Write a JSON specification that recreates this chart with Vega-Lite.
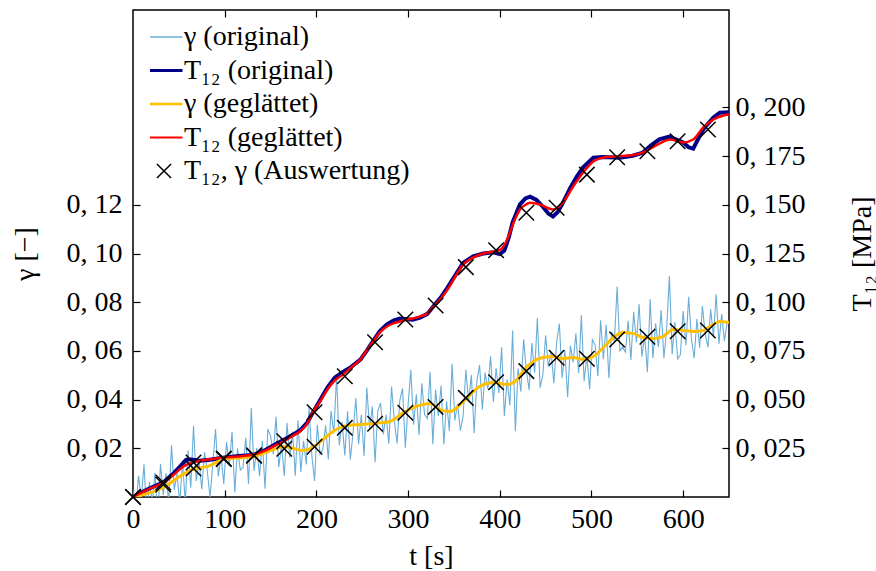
{
  "$schema": "https://vega.github.io/schema/vega-lite/v6.json",
  "width": 596,
  "height": 487,
  "autosize": {"type": "none"},
  "padding": {"left": 133, "top": 10, "right": 147, "bottom": 74},
  "config": {
    "font": "Liberation Serif",
    "view": {"stroke": "black", "strokeWidth": 1.5},
    "axis": {
      "labelFont": "Liberation Serif", "labelFontSize": 28, "labelColor": "black",
      "titleFont": "Liberation Serif", "titleFontSize": 28, "titleFontWeight": "normal", "titleColor": "black",
      "tickColor": "black", "tickSize": -7, "tickWidth": 1.2, "domain": false, "grid": false,
      "labelFlush": false, "labelOverlap": false
    },
    "legend": {"labelFont": "Liberation Serif", "labelFontSize": 28, "labelColor": "black", "labelLimit": 0}
  },
  "datasets": {
    "graw": [
      {"t":0,"g":0.003},{"t":3,"g":-0.0056},{"t":6,"g":0.0087},{"t":9,"g":-0.0009},{"t":12,"g":0.0134},{"t":15,"g":-0.0072},{"t":18,"g":0.0061},{"t":21,"g":-0.0025},{"t":24,"g":0.0098},{"t":27,"g":-0.0088},
      {"t":30,"g":0.0136},{"t":33,"g":0.0009},{"t":36,"g":0.0098},{"t":39,"g":-0.0025},{"t":42,"g":0.0212},{"t":45,"g":0.0029},{"t":48,"g":0.0096},{"t":51,"g":-0.0027},{"t":54,"g":0.0151},{"t":57,"g":-0.0023},
      {"t":60,"g":0.0192},{"t":63,"g":0.0038},{"t":66,"g":0.0293},{"t":69,"g":0.0066},{"t":72,"g":0.0149},{"t":75,"g":0.0032},{"t":78,"g":0.0184},{"t":81,"g":0.0107},{"t":84,"g":-0.0001},{"t":87,"g":0.0134},
      {"t":90,"g":0.0279},{"t":93,"g":0.0084},{"t":96,"g":0.017},{"t":99,"g":0.0054},{"t":102,"g":0.0226},{"t":105,"g":0.0127},{"t":108,"g":0.0268},{"t":111,"g":0.0019},{"t":114,"g":0.02},{"t":117,"g":0.0111},
      {"t":120,"g":0.0122},{"t":123,"g":0.0243},{"t":126,"g":0.0054},{"t":129,"g":0.0365},{"t":132,"g":0.0107},{"t":135,"g":0.0202},{"t":138,"g":0.0085},{"t":141,"g":0.023},{"t":144,"g":0.0034},{"t":147,"g":0.0278},
      {"t":150,"g":0.0252},{"t":153,"g":0.0176},{"t":156,"g":0.0329},{"t":159,"g":0.0122},{"t":162,"g":0.0215},{"t":165,"g":0.0086},{"t":168,"g":0.0304},{"t":171,"g":0.0161},{"t":174,"g":0.0269},{"t":177,"g":0.0087},
      {"t":180,"g":0.0315},{"t":183,"g":0.0103},{"t":186,"g":0.0231},{"t":189,"g":0.0134},{"t":192,"g":0.0368},{"t":195,"g":0.0172},{"t":198,"g":0.0066},{"t":201,"g":0.0297},{"t":204,"g":0.0176},{"t":207,"g":0.0195},
      {"t":210,"g":0.0294},{"t":213,"g":0.0154},{"t":216,"g":0.0353},{"t":219,"g":0.0261},{"t":222,"g":0.0497},{"t":225,"g":0.0213},{"t":228,"g":0.0309},{"t":231,"g":0.0171},{"t":234,"g":0.0352},{"t":237,"g":0.0154},
      {"t":240,"g":0.0265},{"t":243,"g":0.0406},{"t":246,"g":0.0217},{"t":249,"g":0.0338},{"t":252,"g":0.0169},{"t":255,"g":0.045},{"t":258,"g":0.0281},{"t":261,"g":0.0372},{"t":264,"g":0.0143},{"t":267,"g":0.0354},
      {"t":270,"g":0.0386},{"t":273,"g":0.0257},{"t":276,"g":0.0338},{"t":279,"g":0.0219},{"t":282,"g":0.0454},{"t":285,"g":0.0312},{"t":288,"g":0.022},{"t":291,"g":0.0398},{"t":294,"g":0.0446},{"t":297,"g":0.0202},
      {"t":300,"g":0.0377},{"t":303,"g":0.0522},{"t":306,"g":0.0297},{"t":309,"g":0.0422},{"t":312,"g":0.0255},{"t":315,"g":0.0467},{"t":318,"g":0.0339},{"t":321,"g":0.0322},{"t":324,"g":0.0514},{"t":327,"g":0.0217},
      {"t":330,"g":0.044},{"t":333,"g":0.0333},{"t":336,"g":0.0458},{"t":339,"g":0.0216},{"t":342,"g":0.0393},{"t":345,"g":0.0271},{"t":348,"g":0.0547},{"t":351,"g":0.0315},{"t":354,"g":0.0383},{"t":357,"g":0.0272},
      {"t":360,"g":0.0332},{"t":363,"g":0.0522},{"t":366,"g":0.0392},{"t":369,"g":0.0502},{"t":372,"g":0.0262},{"t":375,"g":0.0473},{"t":378,"g":0.0543},{"t":381,"g":0.0358},{"t":384,"g":0.0511},{"t":387,"g":0.0444},
      {"t":390,"g":0.0578},{"t":393,"g":0.039},{"t":396,"g":0.0529},{"t":399,"g":0.0427},{"t":402,"g":0.0615},{"t":405,"g":0.0333},{"t":408,"g":0.0482},{"t":411,"g":0.0377},{"t":414,"g":0.0684},{"t":417,"g":0.027},
      {"t":420,"g":0.0528},{"t":423,"g":0.0433},{"t":426,"g":0.0648},{"t":429,"g":0.0519},{"t":432,"g":0.044},{"t":435,"g":0.0632},{"t":438,"g":0.051},{"t":441,"g":0.0735},{"t":444,"g":0.0449},{"t":447,"g":0.0503},
      {"t":450,"g":0.0664},{"t":453,"g":0.0535},{"t":456,"g":0.0596},{"t":459,"g":0.0467},{"t":462,"g":0.0635},{"t":465,"g":0.0712},{"t":468,"g":0.0489},{"t":471,"g":0.06},{"t":474,"g":0.0411},{"t":477,"g":0.0622},
      {"t":480,"g":0.0553},{"t":483,"g":0.0671},{"t":486,"g":0.0509},{"t":489,"g":0.0746},{"t":492,"g":0.0476},{"t":495,"g":0.0579},{"t":498,"g":0.0443},{"t":501,"g":0.0647},{"t":504,"g":0.0625},{"t":507,"g":0.0496},
      {"t":510,"g":0.0726},{"t":513,"g":0.0566},{"t":516,"g":0.0707},{"t":519,"g":0.0488},{"t":522,"g":0.0679},{"t":525,"g":0.0638},{"t":528,"g":0.0864},{"t":531,"g":0.06},{"t":534,"g":0.0616},{"t":537,"g":0.0595},
      {"t":540,"g":0.0724},{"t":543,"g":0.0563},{"t":546,"g":0.0761},{"t":549,"g":0.0636},{"t":552,"g":0.0791},{"t":555,"g":0.0576},{"t":558,"g":0.0664},{"t":561,"g":0.0513},{"t":564,"g":0.0812},{"t":567,"g":0.0571},
      {"t":570,"g":0.0713},{"t":573,"g":0.0615},{"t":576,"g":0.0768},{"t":579,"g":0.0571},{"t":582,"g":0.0688},{"t":585,"g":0.0907},{"t":588,"g":0.0586},{"t":591,"g":0.0718},{"t":594,"g":0.0567},{"t":597,"g":0.0585},
      {"t":600,"g":0.0764},{"t":603,"g":0.0623},{"t":606,"g":0.0822},{"t":609,"g":0.0651},{"t":612,"g":0.057},{"t":615,"g":0.0731},{"t":618,"g":0.0612},{"t":621,"g":0.0784},{"t":624,"g":0.067},{"t":627,"g":0.0615},
      {"t":630,"g":0.0771},{"t":633,"g":0.0657},{"t":636,"g":0.0833},{"t":639,"g":0.0629},{"t":642,"g":0.0751},{"t":645,"g":0.064},{"t":648,"g":0.0718}
    ],
    "traw": [
      {"t":0,"T":0},{"t":16,"T":0.004},{"t":33,"T":0.0075},{"t":45,"T":0.0125},{"t":52,"T":0.016},{"t":58,"T":0.0192},{"t":64,"T":0.0193},{"t":72,"T":0.0186},{"t":82,"T":0.019},{"t":98,"T":0.0201},
      {"t":115,"T":0.021},{"t":131,"T":0.0216},{"t":142,"T":0.0235},{"t":153,"T":0.0264},{"t":164,"T":0.0292},{"t":174,"T":0.0318},{"t":182,"T":0.0341},{"t":190,"T":0.0382},{"t":196,"T":0.0432},{"t":204,"T":0.0497},
      {"t":212,"T":0.0562},{"t":220,"T":0.0612},{"t":229,"T":0.0642},{"t":238,"T":0.0668},{"t":248,"T":0.0705},{"t":255,"T":0.0751},{"t":262,"T":0.0801},{"t":269,"T":0.085},{"t":277,"T":0.0886},{"t":284,"T":0.0906},
      {"t":291,"T":0.0916},{"t":299,"T":0.0912},{"t":305,"T":0.091},{"t":313,"T":0.0921},{"t":321,"T":0.094},{"t":327,"T":0.0975},{"t":335,"T":0.102},{"t":343,"T":0.1075},{"t":353,"T":0.115},{"t":360,"T":0.1201},
      {"t":371,"T":0.1236},{"t":382,"T":0.125},{"t":393,"T":0.1256},{"t":400,"T":0.1247},{"t":405,"T":0.1265},{"t":410,"T":0.1335},{"t":414,"T":0.141},{"t":422,"T":0.1502},{"t":428,"T":0.1533},{"t":433,"T":0.1542},
      {"t":440,"T":0.1525},{"t":447,"T":0.149},{"t":453,"T":0.1455},{"t":458,"T":0.144},{"t":463,"T":0.1462},{"t":468,"T":0.1502},{"t":477,"T":0.1588},{"t":484,"T":0.1645},{"t":491,"T":0.1692},{"t":502,"T":0.1742},
      {"t":512,"T":0.1745},{"t":531,"T":0.1742},{"t":545,"T":0.1752},{"t":556,"T":0.1768},{"t":565,"T":0.1805},{"t":574,"T":0.1836},{"t":585,"T":0.185},{"t":600,"T":0.182},{"t":606,"T":0.1795},{"t":611,"T":0.1788},
      {"t":616,"T":0.1835},{"t":622,"T":0.1888},{"t":633,"T":0.1948},{"t":640,"T":0.1973},{"t":650,"T":0.1975}
    ],
    "gsmooth": [
      {"t":0,"g":0},{"t":33,"g":0.0039},{"t":54,"g":0.0092},{"t":65,"g":0.0113},{"t":84,"g":0.0129},{"t":98,"g":0.0154},{"t":131,"g":0.0166},{"t":153,"g":0.0195},{"t":164,"g":0.0207},{"t":175,"g":0.0199},
      {"t":185,"g":0.0191},{"t":196,"g":0.0203},{"t":207,"g":0.0236},{"t":218,"g":0.0269},{"t":229,"g":0.029},{"t":248,"g":0.0298},{"t":262,"g":0.0302},{"t":280,"g":0.031},{"t":295,"g":0.0347},{"t":309,"g":0.0372},
      {"t":324,"g":0.0384},{"t":335,"g":0.0359},{"t":346,"g":0.0351},{"t":360,"g":0.0392},{"t":378,"g":0.0454},{"t":393,"g":0.047},{"t":408,"g":0.0462},{"t":419,"g":0.0483},{"t":425,"g":0.0515},{"t":436,"g":0.0556},
      {"t":447,"g":0.0573},{"t":458,"g":0.0577},{"t":469,"g":0.0569},{"t":480,"g":0.0573},{"t":491,"g":0.0565},{"t":502,"g":0.0577},{"t":513,"g":0.0614},{"t":524,"g":0.0655},{"t":534,"g":0.0676},{"t":545,"g":0.0672},
      {"t":556,"g":0.0655},{"t":567,"g":0.0651},{"t":578,"g":0.0659},{"t":589,"g":0.0688},{"t":600,"g":0.0684},{"t":611,"g":0.068},{"t":622,"g":0.0684},{"t":629,"g":0.07},{"t":640,"g":0.0721},{"t":650,"g":0.0717}
    ],
    "tsmooth": [
      {"t":0,"T":0},{"t":16,"T":0.0038},{"t":33,"T":0.0074},{"t":46,"T":0.0121},{"t":55,"T":0.0157},{"t":65,"T":0.0177},{"t":82,"T":0.0192},{"t":98,"T":0.0203},{"t":115,"T":0.0208},{"t":131,"T":0.0218},
      {"t":142,"T":0.0234},{"t":153,"T":0.0259},{"t":164,"T":0.0285},{"t":173,"T":0.0311},{"t":182,"T":0.0336},{"t":190,"T":0.0377},{"t":196,"T":0.0434},{"t":204,"T":0.049},{"t":212,"T":0.0552},{"t":220,"T":0.0598},
      {"t":229,"T":0.0629},{"t":238,"T":0.0665},{"t":248,"T":0.0706},{"t":255,"T":0.0752},{"t":262,"T":0.0798},{"t":269,"T":0.0844},{"t":277,"T":0.0875},{"t":284,"T":0.0891},{"t":291,"T":0.0901},{"t":299,"T":0.0911},
      {"t":305,"T":0.0916},{"t":313,"T":0.0927},{"t":321,"T":0.0942},{"t":327,"T":0.0973},{"t":335,"T":0.1014},{"t":343,"T":0.1065},{"t":353,"T":0.1142},{"t":360,"T":0.1193},{"t":371,"T":0.1229},{"t":382,"T":0.125},
      {"t":396,"T":0.1263},{"t":402,"T":0.1275},{"t":407,"T":0.131},{"t":412,"T":0.137},{"t":417,"T":0.143},{"t":422,"T":0.1476},{"t":428,"T":0.15},{"t":433,"T":0.151},{"t":444,"T":0.1501},{"t":458,"T":0.1476},
      {"t":469,"T":0.1512},{"t":480,"T":0.1594},{"t":491,"T":0.1666},{"t":502,"T":0.1722},{"t":513,"T":0.1743},{"t":524,"T":0.1748},{"t":542,"T":0.1753},{"t":556,"T":0.1768},{"t":572,"T":0.1809},{"t":586,"T":0.1835},
      {"t":600,"T":0.182},{"t":611,"T":0.1835},{"t":622,"T":0.1897},{"t":633,"T":0.1938},{"t":644,"T":0.1958},{"t":650,"T":0.1963}
    ],
    "eval": [
      {"t":0,"g":0,"T":0},{"t":33,"g":0.0051,"T":0.0074},{"t":66,"g":0.0117,"T":0.0177},{"t":99,"g":0.0156,"T":0.0197},{"t":132,"g":0.017,"T":0.0213},
      {"t":165,"g":0.0198,"T":0.0286},{"t":198,"g":0.0206,"T":0.0435},{"t":231,"g":0.0284,"T":0.062},{"t":264,"g":0.0301,"T":0.0794},{"t":297,"g":0.0346,"T":0.0911},
      {"t":330,"g":0.037,"T":0.0983},{"t":363,"g":0.0407,"T":0.118},{"t":396,"g":0.0471,"T":0.1267},{"t":429,"g":0.0517,"T":0.1459},{"t":462,"g":0.0572,"T":0.1485},
      {"t":495,"g":0.0568,"T":0.1655},{"t":528,"g":0.0647,"T":0.1744},{"t":561,"g":0.0658,"T":0.1775},{"t":594,"g":0.0681,"T":0.1826},{"t":627,"g":0.0684,"T":0.1887}
    ]
  },
  "layer": [
    {
      "data": {"name": "graw"},
      "mark": {"type": "line", "strokeWidth": 1.1, "clip": true},
      "encoding": {
        "x": {"field": "t", "type": "quantitative", "scale": {"domain": [0, 650], "nice": false, "zero": false},
              "axis": {"orient": "bottom", "values": [0, 100, 200, 300, 400, 500, 600], "title": "t [s]", "labelPadding": 15, "titlePadding": 9}},
        "y": {"field": "g", "type": "quantitative", "scale": {"domain": [0, 0.2], "nice": false},
              "axis": {"orient": "left", "values": [0.02, 0.04, 0.06, 0.08, 0.1, 0.12], "title": "γ [−]",
                       "labelExpr": "replace(format(datum.value, '.2f'), '.', ', ')", "labelPadding": 18, "titlePadding": 27}},
        "color": {"datum": "γ (original)", "type": "nominal",
                  "scale": {"domain": ["γ (original)", "T₁₂ (original)", "γ (geglättet)", "T₁₂ (geglättet)", "T₁₂, γ (Auswertung)"],
                            "range": ["#6aaed8", "#000088", "#ffbf00", "#ff0000", "#000000"]},
                  "legend": {"title": null, "orient": "none", "legendX": 17, "legendY": 13, "padding": 0,
                             "symbolSize": 1369, "symbolType": "stroke", "clipHeight": 28, "rowPadding": 5.5, "labelOffset": 6,
                             "labelBaseline": "middle", "labelLimit": 0,
                             "encode": {"symbols": {"update": {
                               "shape": {"signal": "datum.index === 4 ? 'M-1,-1L1,1M-1,1L1,-1' : 'stroke'"},
                               "size": {"signal": "datum.index === 4 ? 200 : 1369"},
                               "strokeWidth": {"signal": "datum.index === 1 ? 3 : datum.index === 2 ? 2.5 : datum.index === 3 ? 2 : 1.5"},
                               "opacity": {"value": 1}
                             }}}}}
      }
    },
    {
      "data": {"name": "traw"},
      "mark": {"type": "line", "strokeWidth": 4, "clip": true},
      "encoding": {
        "x": {"field": "t", "type": "quantitative", "scale": {"domain": [0, 650], "nice": false, "zero": false},
              "axis": {"orient": "top", "values": [100, 200, 300, 400, 500, 600], "labels": false, "title": null}},
        "y": {"field": "T", "type": "quantitative", "scale": {"domain": [0, 0.25], "nice": false},
              "axis": {"orient": "right", "values": [0.025, 0.05, 0.075, 0.1, 0.125, 0.15, 0.175, 0.2], "title": "T₁₂ [MPa]",
                       "labelExpr": "replace(format(datum.value, '.3f'), '.', ', ')", "labelPadding": 13, "titlePadding": 43,
                       "titleAngle": 270, "titleBaseline": "top"}},
        "color": {"datum": "T₁₂ (original)", "type": "nominal",
                  "scale": {"domain": ["γ (original)", "T₁₂ (original)", "γ (geglättet)", "T₁₂ (geglättet)", "T₁₂, γ (Auswertung)"],
                            "range": ["#6aaed8", "#000088", "#ffbf00", "#ff0000", "#000000"]}}
      }
    },
    {
      "data": {"name": "gsmooth"},
      "mark": {"type": "line", "strokeWidth": 3, "interpolate": "monotone", "clip": true},
      "encoding": {
        "x": {"field": "t", "type": "quantitative", "scale": {"domain": [0, 650], "nice": false, "zero": false}, "axis": null},
        "y": {"field": "g", "type": "quantitative", "scale": {"domain": [0, 0.2], "nice": false}, "axis": null},
        "color": {"datum": "γ (geglättet)", "type": "nominal",
                  "scale": {"domain": ["γ (original)", "T₁₂ (original)", "γ (geglättet)", "T₁₂ (geglättet)", "T₁₂, γ (Auswertung)"],
                            "range": ["#6aaed8", "#000088", "#ffbf00", "#ff0000", "#000000"]}}
      }
    },
    {
      "data": {"name": "tsmooth"},
      "mark": {"type": "line", "strokeWidth": 2.5, "interpolate": "monotone", "clip": true},
      "encoding": {
        "x": {"field": "t", "type": "quantitative", "scale": {"domain": [0, 650], "nice": false, "zero": false}, "axis": null},
        "y": {"field": "T", "type": "quantitative", "scale": {"domain": [0, 0.25], "nice": false}, "axis": null},
        "color": {"datum": "T₁₂ (geglättet)", "type": "nominal",
                  "scale": {"domain": ["γ (original)", "T₁₂ (original)", "γ (geglättet)", "T₁₂ (geglättet)", "T₁₂, γ (Auswertung)"],
                            "range": ["#6aaed8", "#000088", "#ffbf00", "#ff0000", "#000000"]}}
      }
    },
    {
      "data": {"name": "eval"},
      "mark": {"type": "point", "shape": "M-1,-1L1,1M-1,1L1,-1", "filled": false, "size": 240, "strokeWidth": 1.5, "opacity": 1, "clip": false},
      "encoding": {
        "x": {"field": "t", "type": "quantitative", "scale": {"domain": [0, 650], "nice": false, "zero": false}, "axis": null},
        "y": {"field": "g", "type": "quantitative", "scale": {"domain": [0, 0.2], "nice": false}, "axis": null},
        "color": {"datum": "T₁₂, γ (Auswertung)", "type": "nominal",
                  "scale": {"domain": ["γ (original)", "T₁₂ (original)", "γ (geglättet)", "T₁₂ (geglättet)", "T₁₂, γ (Auswertung)"],
                            "range": ["#6aaed8", "#000088", "#ffbf00", "#ff0000", "#000000"]}}
      }
    },
    {
      "data": {"name": "eval"},
      "mark": {"type": "point", "shape": "M-1,-1L1,1M-1,1L1,-1", "filled": false, "size": 240, "strokeWidth": 1.5, "opacity": 1, "clip": false},
      "encoding": {
        "x": {"field": "t", "type": "quantitative", "scale": {"domain": [0, 650], "nice": false, "zero": false}, "axis": null},
        "y": {"field": "T", "type": "quantitative", "scale": {"domain": [0, 0.25], "nice": false}, "axis": null},
        "color": {"datum": "T₁₂, γ (Auswertung)", "type": "nominal",
                  "scale": {"domain": ["γ (original)", "T₁₂ (original)", "γ (geglättet)", "T₁₂ (geglättet)", "T₁₂, γ (Auswertung)"],
                            "range": ["#6aaed8", "#000088", "#ffbf00", "#ff0000", "#000000"]}}
      }
    }
  ],
  "resolve": {"scale": {"y": "independent"}, "axis": {"x": "independent", "y": "independent"}}
}
